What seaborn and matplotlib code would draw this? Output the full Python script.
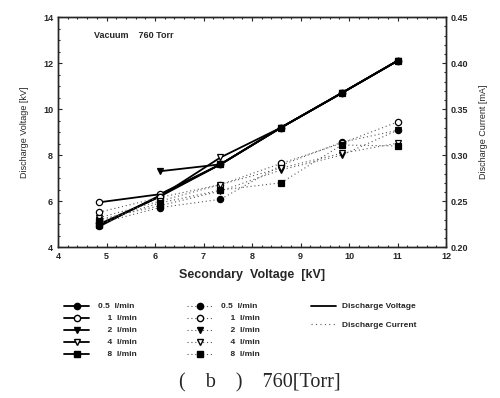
import matplotlib
matplotlib.use("Agg")
import matplotlib.pyplot as plt
import seaborn as sns
import numpy as np
import pandas as pd
from matplotlib.lines import Line2D
from matplotlib.ticker import MultipleLocator

sns.set_style("ticks")
plt.rcParams['font.family'] = ['Liberation Sans', 'DejaVu Sans']

x_sec = [4.85, 6.1, 7.35, 8.6, 9.85, 11.0]
flows = ["0.5 l/min", "1 l/min", "2 l/min", "4 l/min", "8 l/min"]
flow_labels = ["0.5  l/min", "    1  l/min", "    2  l/min", "    4  l/min", "    8  l/min"]

v_05 = [4.9, 6.25, 7.6, 9.2, 10.7, 12.1]
v_1 = [5.95, 6.3, 7.6, 9.2, 10.7, 12.1]
v_2 = [np.nan, 7.3, 7.6, 9.2, 10.7, 12.1]
v_4 = [5.0, 6.2, 7.9, 9.2, 10.7, 12.1]
v_8 = [4.95, 6.2, 7.6, 9.2, 10.7, 12.1]

c_05 = [0.226, 0.243, 0.252, 0.289, 0.314, 0.327]
c_1 = [0.238, 0.254, 0.268, 0.291, 0.313, 0.336]
c_2 = [0.230, 0.245, 0.261, 0.284, 0.300, 0.327]
c_4 = [0.232, 0.250, 0.268, 0.286, 0.302, 0.313]
c_8 = [0.228, 0.248, 0.262, 0.270, 0.311, 0.310]

volt = [v_05, v_1, v_2, v_4, v_8]
curr = [c_05, c_1, c_2, c_4, c_8]
markers = ['o', 'o', 'v', 'v', 's']
faces = ['black', 'white', 'black', 'white', 'black']

fig = plt.figure(figsize=(5.0, 3.98), dpi=100)
ax = fig.add_axes([0.116, 0.379, 0.776, 0.578])
ax2 = ax.twinx()

fs = 6.5
ms = 4.5
dots = (0, (1, 2.5))
for vals, m, fc in zip(volt, markers, faces):
    df = pd.DataFrame({"x": x_sec, "y": vals}).dropna()
    sns.lineplot(data=df, x="x", y="y", ax=ax, color='black', lw=1.3,
                 marker=m, markersize=ms, markerfacecolor=fc,
                 markeredgecolor='black', markeredgewidth=0.9, legend=False)

for vals, m, fc in zip(curr, markers, faces):
    df = pd.DataFrame({"x": x_sec, "y": vals})
    sns.lineplot(data=df, x="x", y="y", ax=ax2, color='0.35', lw=0.8,
                 linestyle=dots, marker=m, markersize=ms,
                 markerfacecolor=fc, markeredgecolor='black',
                 markeredgewidth=0.9, legend=False)

ax.set_xlim(4, 12)
ax.set_ylim(4, 14)
ax2.set_ylim(0.20, 0.45)
ax.xaxis.set_major_locator(MultipleLocator(1))
ax.xaxis.set_minor_locator(MultipleLocator(0.2))
ax.yaxis.set_major_locator(MultipleLocator(2))
ax.yaxis.set_minor_locator(MultipleLocator(0.5))
ax2.yaxis.set_major_locator(MultipleLocator(0.05))
ax2.yaxis.set_minor_locator(MultipleLocator(0.01))
ax2.set_yticks(np.arange(0.20, 0.451, 0.05))
ax2.set_yticklabels(["0.20", "0.25", "0.30", "0.35", "0.40", "0.45"])

for a in (ax, ax2):
    a.tick_params(which='both', direction='in', labelsize=fs, width=0.8)
    a.tick_params(which='major', length=3)
    a.tick_params(which='minor', length=1.5)
    for lbl in a.get_xticklabels() + a.get_yticklabels():
        lbl.set_fontweight('bold')
    for s in a.spines.values():
        s.set_linewidth(1.0)
ax.tick_params(top=True, which='both')
ax.tick_params(axis='y', which='both', right=False)

ax.set_xlabel("Secondary  Voltage  [kV]", fontsize=9, fontweight='bold', labelpad=6)
ax.set_ylabel("Discharge Voltage [kV]", fontsize=6.5, labelpad=10)
ax2.set_ylabel("Discharge Current [mA]", fontsize=6.5, labelpad=8, rotation=90)

ax.text(4.75, 13.1, "Vacuum    760 Torr", fontsize=6.5, fontweight='bold')

# legends
h1 = [Line2D([], [], color='black', lw=1.3, marker=m, markersize=ms,
             markerfacecolor=fc, markeredgecolor='black') for m, fc in zip(markers, faces)]
h2 = [Line2D([], [], color='0.35', lw=0.8, linestyle=dots, marker=m, markersize=ms,
             markerfacecolor=fc, markeredgecolor='black') for m, fc in zip(markers, faces)]
h3 = [Line2D([], [], color='black', lw=1.3),
      Line2D([], [], color='0.35', lw=0.8, linestyle=(0, (1, 3)))]

common = dict(frameon=False, fontsize=6, handlelength=3.0, labelspacing=0.5,
              handletextpad=1.0, borderaxespad=0)
l1 = fig.legend(h1, flow_labels, loc='upper left', bbox_to_anchor=(0.122, 0.248), **common)
l2 = fig.legend(h2, flow_labels, loc='upper left', bbox_to_anchor=(0.368, 0.248), **common)
l3 = fig.legend(h3, ["Discharge Voltage", "Discharge Current"], loc='upper left',
                bbox_to_anchor=(0.615, 0.248), frameon=False, fontsize=6,
                handlelength=3, labelspacing=1.25, handletextpad=0.8, borderaxespad=0)
for lg in (l1, l2, l3):
    for t in lg.get_texts():
        t.set_fontweight('bold')

fig.text(0.519, 0.038, "(    b    )    760[Torr]", ha='center', va='center', fontsize=14.5,
         family=['Liberation Serif', 'DejaVu Serif'])

fig.savefig("out.png", dpi=100)
